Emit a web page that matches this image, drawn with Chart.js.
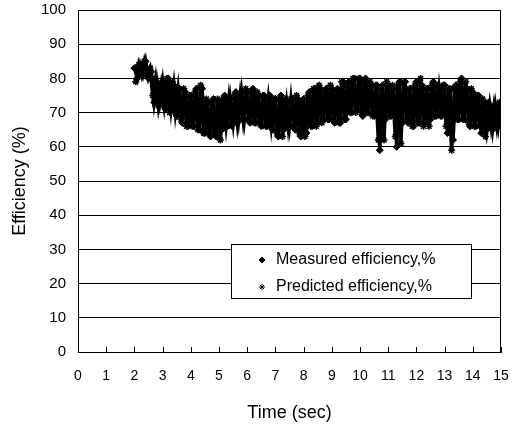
<!DOCTYPE html>
<html>
<head>
<meta charset="utf-8">
<script src="https://cdn.jsdelivr.net/npm/chart.js@4.4.1/dist/chart.umd.min.js"></script>
<style>
  body { margin: 0; background: #fff; }
</style>
</head>
<body>
<canvas id="effChart" width="514" height="428"></canvas>
<script>
// sampling: measured every 0.1 s from 2.0 s, predicted offset by half a step
const startTime = 2.0
const stepTime = 0.1

const measured = [
  83, 80, 84, 81, 85, 80, 82, 73, 79, 73,
  79, 71, 80, 71, 78, 69, 77, 67, 76, 66,
  75, 66, 77, 65, 77, 64, 73, 63, 74, 63,
  73, 65, 75, 66, 74, 67, 76, 68, 76, 68,
  76, 67, 77, 67, 75, 66, 75, 66, 75, 65,
  74, 63, 75, 65, 73, 66, 74, 65, 74, 63,
  74, 64, 76, 66, 77, 67, 77, 68, 77, 68,
  77, 67, 77, 67, 79, 68, 79, 70, 80, 71,
  80, 69, 80, 70, 78, 69, 78, 59, 78, 68,
  78, 69, 77, 60, 79, 67, 79, 67, 77, 66,
  79, 67, 78, 67, 77, 68, 79, 69, 77, 69,
  78, 64, 77, 62, 78, 68, 80, 68, 77, 66,
  76, 66, 75, 64, 73, 65, 72, 65, 72, 66,
  73
]

const predicted = [
  79, 84, 81, 85, 81, 83, 75, 80, 72, 78,
  72, 80, 70, 79, 70, 77, 68, 77, 66, 75,
  66, 76, 65, 78, 64, 74, 64, 73, 64, 74,
  62, 74, 66, 74, 66, 75, 67, 75, 68, 77,
  68, 76, 67, 76, 67, 75, 66, 74, 66, 74,
  64, 74, 63, 74, 66, 74, 66, 75, 64, 73,
  63, 75, 66, 77, 66, 78, 67, 76, 68, 78,
  68, 76, 67, 79, 68, 78, 70, 80, 70, 80,
  70, 79, 70, 79, 69, 78, 62, 77, 62, 79,
  69, 78, 63, 78, 61, 79, 68, 77, 66, 78,
  67, 80, 66, 77, 66, 78, 69, 78, 69, 78,
  66, 77, 59, 77, 68, 79, 68, 79, 67, 77,
  66, 75, 66, 74, 63, 73, 66, 72, 66, 73
]

const seriesNames = ['Measured efficiency,%', 'Predicted efficiency,%']
const xTicks = [0, 15, 1]   // min, max, step
const yTicks = [0, 100, 10]

const toPoints = (vals, offset) => vals.map((v, i) => ({ x: +(startTime + offset + i * stepTime).toFixed(2), y: v }))

const frame = {
  id: 'frame',
  afterDraw(chart) {
    const c = chart.ctx
    const a = chart.chartArea
    const xs = chart.scales.x
    c.save()
    c.strokeStyle = '#000'
    c.lineWidth = 1
    c.strokeRect(a.left + 0.5, a.top + 0.5, a.right - a.left - 1, a.bottom - a.top)
    // small inward ticks on the time axis
    for (let t = xTicks[0]; t <= xTicks[1]; t += xTicks[2]) {
      const px = Math.round(xs.getPixelForValue(t)) + 0.5
      c.beginPath()
      c.moveTo(px, a.bottom)
      c.lineTo(px, a.bottom - 5)
      c.stroke()
    }

    // legend box inside the plot
    const bx = a.left + 153, by = a.top + 234, bw = 240, bh = 54
    c.fillStyle = '#fff'
    c.fillRect(bx, by, bw, bh)
    c.strokeRect(bx + 0.5, by + 0.5, bw, bh)
    c.font = '16px "Liberation Sans", Arial, sans-serif'
    c.textBaseline = 'middle'
    c.fillStyle = '#000'
    chart.data.datasets.forEach((ds, i) => {
      const ly = by + 16 + i * 27
      Chart.helpers.drawPoint(c, { pointStyle: ds.pointStyle, radius: 3, borderWidth: 1, rotation: 0 }, bx + 31, ly)
      c.fillStyle = '#000'
      c.fillText(ds.label, bx + 45, ly)
    })
    c.restore()
  }
}

new Chart(document.getElementById('effChart'), {
  type: 'scatter',
  data: {
    datasets: [{
      label: seriesNames[0],
      data: toPoints(measured, 0),
      showLine: true,
      borderColor: '#000',
      backgroundColor: '#000',
      borderWidth: 3.5,
      pointStyle: 'rectRot',
      pointRadius: 3.5,
      pointBorderWidth: 1
    }, {
      label: seriesNames[1],
      data: toPoints(predicted, stepTime / 2),
      showLine: true,
      borderColor: '#000',
      backgroundColor: '#000',
      borderWidth: 3.5,
      pointStyle: 'star',
      pointRadius: 3.5,
      pointBorderWidth: 1.5
    }]
  },
  options: {
    responsive: false,
    animation: false,
    layout: { padding: { top: 10, right: 13, left: 0, bottom: 0 } },
    plugins: { legend: { display: false }, tooltip: { enabled: false } },
    scales: {
      x: {
        type: 'linear',
        min: xTicks[0],
        max: xTicks[1],
        afterFit(s) { s.height = 76; s.paddingLeft = 0; s.paddingRight = 0 },
        ticks: { stepSize: xTicks[2], color: '#000', padding: 8, maxRotation: 0, font: { family: '"Liberation Sans", Arial, sans-serif', size: 14 } },
        grid: { display: false },
        border: { display: true, color: '#000', width: 1 },
        title: { display: true, text: 'Time (sec)', color: '#000', padding: { top: 0, bottom: 4 }, font: { family: '"Liberation Sans", Arial, sans-serif', size: 18 } }
      },
      y: {
        min: yTicks[0],
        max: yTicks[1],
        afterFit(s) { s.width = 78; s.paddingTop = 0; s.paddingBottom = 0 },
        ticks: { stepSize: yTicks[2], color: '#000', padding: 12, font: { family: '"Liberation Sans", Arial, sans-serif', size: 15 } },
        grid: { color: '#000', lineWidth: 1, drawTicks: false },
        border: { display: true, color: '#000', width: 1 },
        title: { display: true, text: 'Efficiency (%)', color: '#000', padding: { top: 9, bottom: 0 }, font: { family: '"Liberation Sans", Arial, sans-serif', size: 18 } }
      }
    }
  },
  plugins: [frame]
})
</script>
</body>
</html>
